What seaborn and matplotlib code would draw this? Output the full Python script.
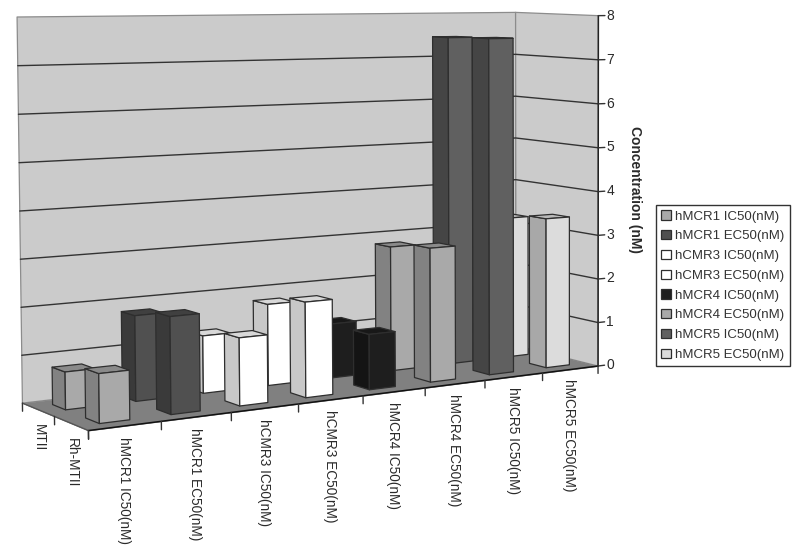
import numpy as np
import matplotlib
matplotlib.use("Agg")
import matplotlib.pyplot as plt
from matplotlib.patches import Patch
from mpl_toolkits.mplot3d.art3d import Poly3DCollection
import seaborn as sns

categories = ["hMCR1 IC50(nM)", "hMCR1 EC50(nM)", "hCMR3 IC50(nM)", "hCMR3 EC50(nM)",
              "hMCR4 IC50(nM)", "hMCR4 EC50(nM)", "hMCR5 IC50(nM)", "hMCR5 EC50(nM)"]
legend_labels = ["hMCR1 IC50(nM)", "hMCR1 EC50(nM)", "hCMR3 IC50(nM)", "hCMR3 EC50(nM)",
                 "hMCR4 IC50(nM)", "hMCR4 EC50(nM)", "hMCR5 IC50(nM)", "hMCR5 EC50(nM)"]
peptides = ["Rh-MTII", "MTII"]
mtii = [0.78, 1.8, 1.23, 1.77, 1.2, 2.8, 7.47, 3.25]
rh_mtii = [1.0, 2.0, 1.42, 2.03, 1.2, 2.95, 7.5, 3.4]
front_colors = ["#a9a9a9", "#505050", "#ffffff", "#ffffff", "#1e1e1e", "#a9a9a9", "#606060", "#dcdcdc"]
side_colors = ["#828282", "#3a3a3a", "#c8c8c8", "#c8c8c8", "#141414", "#828282", "#454545", "#a8a8a8"]
top_colors = ["#8a8a8a", "#404040", "#d8d8d8", "#d8d8d8", "#181818", "#8a8a8a", "#4a4a4a", "#b8b8b8"]
z_ticks = list(range(0, 9))

sns.set_theme(style="white", font="Liberation Sans")
EDGE = "#2e2e2e"
WALL = "#cbcbcb"
FLOOR = "#808080"
TEXT = "#2a2a2a"

# Camera: projective matrix fitted to the reference's frame (data -> pixels)
anchors = [((0, 1, 0), (22, 403)), ((0, 1, 8), (17, 17)), ((8, 1, 0), (516, 345)),
           ((8, 1, 8), (516, 13)), ((0, 0, 0), (89, 430)), ((8, 0, 0), (598, 366)),
           ((8, 0, 8), (598, 15)), ((4, 0, 0), (363, 397))]
rows = []
for (X, Y, Z), (u, v) in anchors:
    rows.append([X, Y, Z, 1, 0, 0, 0, 0, -u * X, -u * Y, -u * Z, -u])
    rows.append([0, 0, 0, 0, X, Y, Z, 1, -v * X, -v * Y, -v * Z, -v])
P = np.linalg.svd(np.array(rows, float))[2][-1].reshape(3, 4)
P = P / P[2, 3]
M = np.vstack([P[0], P[1], [0, 1, 0, 0], P[2]])


def screen(x, y, z):
    h = P @ np.array([x, y, z, 1.0])
    return h[0] / h[2], h[1] / h[2]


fig = plt.figure(figsize=(8, 5.51), dpi=100)
ax = fig.add_axes([0, 0, 1, 1], projection="3d", computed_zorder=False)
ax.set_proj_type("ortho")
ax.get_proj = lambda: M
ax.apply_aspect = lambda position=None: None
ax.set_axis_off()
ax.set_xlim(0, 8)
ax.set_ylim(0, 1)
ax.set_zlim(0, 8)
ax.viewLim.intervalx = (0, 800)
ax.viewLim.intervaly = (551, 0)

n = len(categories)
zmax = z_ticks[-1]
ax.add_collection3d(Poly3DCollection([[(0, 1, 0), (n, 1, 0), (n, 1, zmax), (0, 1, zmax)],
                                      [(n, 1, 0), (n, 0, 0), (n, 0, zmax), (n, 1, zmax)]],
                                     facecolors=WALL, edgecolors="#8c8c8c", linewidths=0.9, zorder=1))
ax.add_collection3d(Poly3DCollection([[(0, 0, 0), (n, 0, 0), (n, 1, 0), (0, 1, 0)]],
                                     facecolors=FLOOR, edgecolors=FLOOR, linewidths=0.5, zorder=2))
for v in z_ticks[1:-1]:
    ax.plot([0, n, n], [1, 1, 0], [v, v, v], color="#333333", lw=1.0, zorder=3)

# frame and ticks
ax.plot([0, n], [0, 0], [0, 0], color="#111111", lw=1.1, zorder=4)
ax.plot([0, 0], [0, 1], [0, 0], color="#555555", lw=1.0, zorder=4)
ax.plot([n, n], [0, 0], [0, zmax], color="#222222", lw=1.1, zorder=40)
for i in range(n + 1):
    ax.plot([i, i], [0, 0], [0, -0.17], color="#333333", lw=1.0, zorder=4)
for d in (0, 0.5, 1):
    ax.plot([0, 0], [d, d], [0, -0.17], color="#333333", lw=1.0, zorder=4)
for v in z_ticks:
    ax.plot([n, n + 0.12], [0, 0], [v, v], color="#333333", lw=1.0, zorder=40)
    px, py = screen(n + 0.15, 0, v)
    ax.text2D(px, py, str(v), transform=ax.transData, ha="left", va="center", fontsize=10,
              color=TEXT, zorder=41)

# bars: back row first, then front row
CLEAR = (0, 0, 0, 0)
zo = 10
for d0, values in ((0.65, mtii), (0.15, rh_mtii)):
    for i, val in enumerate(values):
        faces = [CLEAR, top_colors[i], front_colors[i], CLEAR, side_colors[i], CLEAR]
        edges = [CLEAR, EDGE, EDGE, CLEAR, EDGE, CLEAR]
        ax.bar3d([i + 0.29], [d0], [0], [0.42], [0.2], [val], color=faces, edgecolor=edges,
                 linewidth=0.9, shade=False, zorder=zo)
        zo += 1

for i, name in enumerate(categories):
    px, py = screen(i + 0.48, 0, -0.22)
    ax.text2D(px, py, name, transform=ax.transData, rotation=-90, ha="center", va="top",
              fontsize=9.8, color=TEXT, zorder=41)
for d, name in zip((0.25, 0.75), peptides):
    px, py = screen(0, d, -0.29)
    ax.text2D(px, py, name, transform=ax.transData, rotation=-90, ha="center", va="top",
              fontsize=9.8, color=TEXT, zorder=41)

fig.text(635 / 800, 1 - 189 / 551, "Concentration (nM)", rotation=-90, ha="center", va="center",
         fontsize=10, fontweight="bold", color=TEXT)

handles = [Patch(facecolor=c, edgecolor=EDGE, linewidth=0.9) for c in sns.color_palette(front_colors)]
fig.legend(handles, legend_labels, loc="upper left", bbox_to_anchor=(656 / 800, 1 - 205 / 551),
           bbox_transform=fig.transFigure, borderaxespad=0, frameon=True, fancybox=False,
           edgecolor="#333333", framealpha=1, fontsize=9.5, labelcolor="#333333",
           handlelength=0.7, handleheight=0.7, handletextpad=0.35, labelspacing=0.57,
           borderpad=0.4)

fig.savefig("out.png", dpi=100)
